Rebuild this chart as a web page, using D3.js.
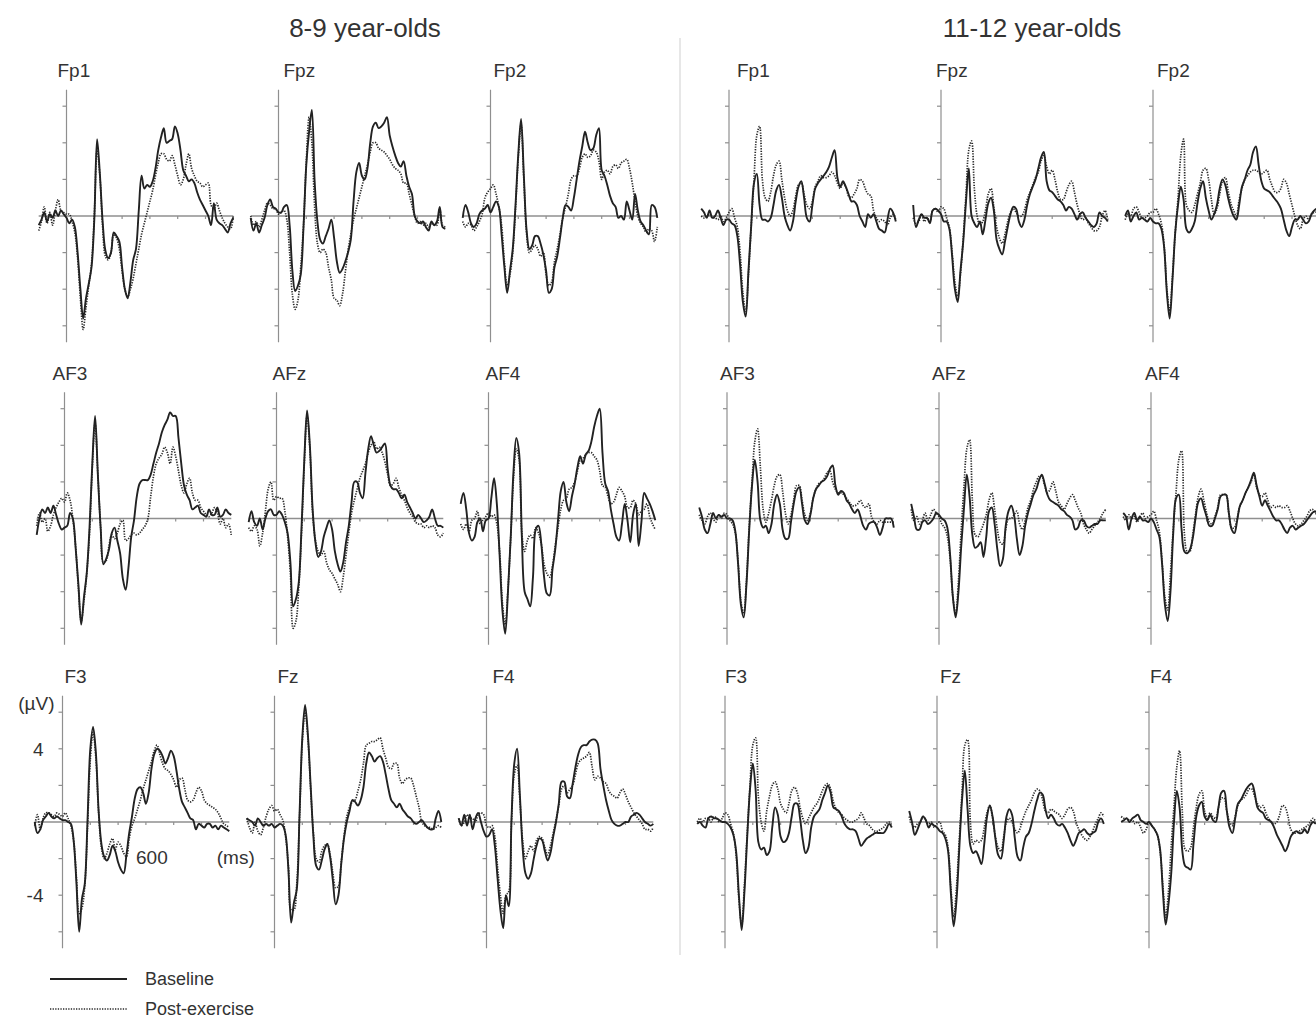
<!DOCTYPE html>
<html><head><meta charset="utf-8">
<script src="https://cdn.jsdelivr.net/npm/d3@7"></script>
<style>
body{margin:0;background:#fff;}
svg{display:block;font-family:"Liberation Sans",Arial,Helvetica,sans-serif;}
</style>
</head><body>
<svg id="chart" width="1316" height="1021"></svg>
<script>
// ---------- DATA ----------
const times = [-200,-180,-160,-140,-120,-100,-80,-60,-40,-20,0,
  20,40,60,80,100,120,140,160,180,200,
  220,240,260,280,300,320,340,360,380,400,
  420,440,460,480,500,520,540,560,580,600,
  620,640,660,680,700,720,740,760,780,800,
  820,840,860,880,900,920,940,960,980,1000,
  1020,1040,1060,1080,1100,1120,1140,1160,1180,1200];

const groupTitles = ["8-9 year-olds", "11-12 year-olds"];
const electrodes = ["Fp1","Fpz","Fp2","AF3","AFz","AF4","F3","Fz","F4"];
const seriesNames = ["Baseline", "Post-exercise"];
const yTickValues = [-6,-4,-2,2,4,6];
const yTickLabels = ["4","-4"];
const yTickLabelValues = [4,-4];
const xTickValues = [200,400,600,800,1000];
const xTickLabel = "600";
const yUnit = "(\u00b5V)";
const xUnit = "(ms)";

// 8-9 year-olds
const y89_Fp1_base = [-0.5,-0.2,0.2,-0.3,0.1,-0.1,0.3,0.0,0.3,0.1,-0.1,
 -0.4,-0.2,-0.6,-2.0,-4.0,-5.6,-4.5,-3.7,-2.8,-0.2,
 4.2,2.3,-0.3,-1.9,-2.3,-2.0,-0.9,-1.1,-1.4,-2.8,
 -4.0,-4.5,-3.6,-2.4,-1.8,0.3,2.2,1.5,1.7,1.6,
 1.9,2.6,3.6,4.3,4.8,4.0,4.1,4.2,4.9,4.5,
 3.6,2.5,2.2,1.9,2.0,1.8,1.3,0.9,0.6,0.3,
 0.0,-0.5,0.7,-0.2,-0.4,-0.5,-0.7,-0.9,-0.4,-0.1];
const y89_Fp1_post = [-0.8,-0.3,0.5,-0.4,0.2,-0.5,0.3,0.9,0.3,0.2,0.1,
 0.1,-0.3,-0.9,-2.3,-4.5,-6.2,-5.0,-3.8,-2.6,0.0,
 3.6,2.2,-0.6,-2.2,-2.4,-2.0,-1.0,-1.2,-1.8,-3.0,
 -4.0,-4.4,-4.0,-3.4,-2.6,-1.8,-1.0,-0.4,0.2,0.8,
 1.4,2.2,2.9,3.4,3.4,3.1,3.0,3.3,2.8,2.2,
 1.7,2.0,2.8,3.4,2.6,2.2,1.9,1.8,1.6,1.7,
 1.8,0.6,0.4,0.7,0.3,-0.1,-0.4,-0.6,-0.7,0.0];
const y89_Fpz_base = [-0.1,-0.8,-0.4,-0.9,-0.5,-0.1,0.6,0.9,0.5,0.4,0.2,
 0.2,0.5,0.6,-0.5,-3.0,-4.1,-3.8,-3.2,-0.6,2.8,
 4.6,5.8,1.9,-0.3,-1.3,-1.5,-1.1,-0.7,-0.2,-1.2,
 -2.5,-3.1,-2.9,-2.5,-2.0,-1.3,0.8,2.4,2.9,2.2,
 2.0,2.6,4.0,4.9,5.1,4.8,4.9,5.1,5.4,4.4,
 3.8,3.3,2.9,2.7,3.0,2.2,1.6,1.2,0.0,-0.3,
 -0.4,-0.3,-0.6,-0.8,-0.3,-0.5,-0.3,0.5,-0.6,-0.7];
const y89_Fpz_post = [0.0,-0.5,-0.3,-0.6,-0.2,0.3,0.7,0.6,0.4,0.4,0.1,
 0.2,0.3,-0.2,-2.0,-4.3,-5.1,-4.6,-2.8,-0.5,3.0,
 5.4,4.0,0.5,-1.5,-2.0,-1.8,-2.0,-2.8,-3.5,-4.5,
 -4.6,-4.9,-4.3,-3.1,-1.9,-1.0,-0.2,0.4,1.0,1.6,
 2.2,2.8,3.5,4.0,4.0,3.7,3.6,3.5,3.3,3.1,
 2.8,2.6,2.5,2.3,1.8,1.8,1.2,0.6,0.0,-0.4,
 -0.3,-0.5,-0.4,-0.6,-0.4,-0.5,-0.5,0.4,-0.5,-0.6];
const y89_Fp2_base = [-0.1,0.6,0.2,-0.4,-0.6,-0.4,0.1,0.3,0.4,0.6,0.2,
 0.5,0.8,0.5,-1.0,-2.8,-4.2,-3.0,-1.8,0.6,3.4,
 5.3,2.2,-0.8,-1.8,-1.6,-1.1,-1.1,-1.5,-2.1,-3.0,
 -4.2,-4.0,-2.8,-2.2,-1.2,-0.1,0.6,0.5,0.3,1.0,
 2.0,3.0,3.8,4.6,4.0,3.6,3.7,4.4,4.8,2.5,
 2.2,1.7,1.1,0.7,0.5,-0.1,0.0,-0.2,0.8,0.3,
 -0.2,1.2,0.3,-0.3,-0.5,-0.8,-1.0,0.6,0.5,-0.1];
const y89_Fp2_post = [-0.3,-0.6,-0.4,-0.5,-0.8,-0.6,-0.3,0.1,1.0,1.3,1.5,
 1.7,1.2,0.5,-0.5,-2.5,-3.8,-3.2,-2.0,0.4,3.2,
 5.0,2.0,-1.0,-2.0,-1.8,-1.6,-1.8,-2.2,-2.0,-3.2,
 -3.8,-3.6,-2.5,-1.8,-1.0,-0.1,0.5,1.2,2.0,2.2,
 2.2,2.6,3.2,3.4,3.2,3.3,3.6,3.5,3.0,2.0,
 2.4,2.5,2.3,2.7,2.8,2.6,2.9,3.0,3.1,2.6,
 1.8,0.8,0.0,-0.4,-0.6,-0.9,-0.7,-0.8,-1.4,-0.6];
const y89_AF3_base = [-0.9,0.0,0.5,0.3,0.6,0.3,0.7,0.2,-0.3,-0.6,-0.5,
 -0.4,0.3,0.0,-1.6,-3.6,-5.8,-4.3,-3.0,-0.5,3.0,
 5.6,2.4,-0.5,-2.5,-2.2,-1.7,-0.8,-0.5,-1.2,-1.9,
 -3.3,-3.9,-2.7,-1.0,-0.1,1.2,1.9,2.1,2.1,2.1,
 2.4,3.0,3.6,4.1,4.7,5.1,5.4,5.8,5.6,5.6,
 4.4,3.0,1.8,1.3,1.0,0.5,0.6,0.7,0.3,0.2,
 0.1,0.5,0.2,0.2,0.6,0.1,0.2,0.5,0.3,0.2];
const y89_AF3_post = [-0.4,0.3,-0.2,0.0,-0.7,-0.4,0.2,0.6,0.9,1.1,0.9,
 1.4,1.0,0.0,-1.5,-3.8,-5.6,-4.5,-3.0,-0.8,2.8,
 5.2,2.4,-0.5,-2.4,-2.3,-1.5,-0.9,-1.1,-0.8,-0.3,
 -0.1,-1.2,-1.1,-0.9,-0.8,-0.9,-0.8,-0.6,-0.4,0.0,
 1.2,2.3,3.0,3.3,3.5,3.9,3.6,3.0,3.9,3.4,
 2.6,1.8,1.4,1.9,2.2,1.4,1.0,1.0,0.6,0.4,
 0.2,0.1,0.3,0.6,0.3,-0.3,0.0,-0.5,-0.3,-0.9];
const y89_AFz_base = [-0.2,0.4,-0.2,-0.4,0.0,-0.6,0.0,0.4,0.5,0.2,0.2,
 0.4,0.2,-0.2,-0.8,-2.4,-4.8,-4.4,-3.5,-0.5,3.2,
 5.9,4.0,0.5,-1.3,-2.1,-1.8,-1.0,-0.5,-0.1,-0.6,
 -1.8,-2.5,-2.9,-2.4,-1.3,-0.4,0.9,2.0,2.0,1.4,
 1.1,2.5,3.8,4.5,4.0,3.6,3.7,3.9,4.1,2.7,
 1.8,1.6,1.6,1.4,1.1,1.3,0.9,0.6,0.3,0.0,
 0.2,0.0,-0.2,-0.1,0.1,0.5,0.0,-0.4,-0.4,-0.5];
const y89_AFz_post = [-0.5,-0.7,-0.4,-0.6,-1.5,-0.8,0.4,1.6,2.0,1.0,1.2,
 1.1,1.1,0.4,-1.0,-3.0,-6.0,-5.6,-3.8,-0.8,3.0,
 5.6,3.8,0.3,-1.2,-1.8,-2.0,-1.8,-2.4,-2.8,-3.0,
 -3.3,-3.6,-4.0,-3.2,-2.0,-0.8,0.3,1.0,1.6,2.2,
 2.6,3.0,3.6,4.0,4.2,3.8,3.9,3.6,3.1,2.4,
 1.8,1.9,2.2,1.7,1.3,1.0,0.6,0.3,0.1,-0.2,
 -0.3,-0.3,-0.5,-0.4,-0.5,-0.4,-0.5,-0.9,-1.0,-0.8];
const y89_AF4_base = [0.8,1.4,0.5,-0.8,-1.2,-1.0,-0.2,0.0,-0.7,-0.1,0.0,
 1.1,2.2,0.8,-2.0,-5.0,-6.3,-4.0,-1.0,2.6,4.4,
 3.6,-1.0,-4.0,-4.4,-4.8,-3.2,-0.6,-0.4,-1.4,-3.2,
 -4.1,-4.2,-2.8,-1.7,-0.1,1.5,2.0,0.9,0.4,1.2,
 1.9,2.8,3.4,3.0,3.5,3.7,4.2,5.0,5.6,6.0,
 3.6,1.9,1.5,0.5,-0.3,-1.0,-1.2,-0.3,0.8,-0.1,
 -1.3,0.2,0.8,-1.5,-0.2,1.4,1.1,0.8,0.4,-0.1];
const y89_AF4_post = [-0.3,-0.6,-0.3,-0.7,-0.1,0.0,0.4,-0.3,-0.1,0.1,0.3,
 0.1,0.2,-0.3,-1.8,-4.6,-5.8,-3.9,-1.0,2.2,3.8,
 3.2,-0.8,-1.8,-1.2,-0.9,-1.1,-0.5,-0.8,-1.4,-2.5,
 -3.0,-3.2,-2.6,-1.5,-0.5,0.5,1.0,1.1,1.6,1.7,
 2.0,2.6,3.2,3.3,3.5,3.6,3.6,3.4,3.2,2.6,
 1.8,1.7,1.2,0.8,0.9,1.3,1.7,1.5,1.2,0.6,
 0.6,1.0,0.8,0.2,0.4,0.5,0.8,0.1,-0.3,-0.6];
const y89_F3_base = [0.0,-0.6,-0.4,0.1,0.3,0.5,0.3,0.2,0.3,0.2,0.1,
 0.1,0.0,-0.1,-1.0,-3.3,-6.0,-4.2,-3.4,0.1,4.0,
 5.2,3.8,0.6,-1.2,-1.9,-2.1,-1.8,-1.3,-1.6,-2.2,
 -2.6,-2.8,-1.8,-0.6,0.3,1.3,1.8,1.9,1.6,1.0,
 1.6,2.9,3.7,4.0,3.9,3.6,3.2,3.5,3.9,3.6,
 2.8,1.8,1.1,0.8,0.5,0.2,0.1,-0.4,-0.1,-0.2,
 -0.3,-0.1,-0.1,-0.3,-0.2,-0.4,-0.2,-0.3,-0.4,-0.5];
const y89_F3_post = [-0.2,0.4,-0.4,0.2,0.5,0.5,0.4,0.3,0.5,0.4,0.3,
 0.5,0.2,-0.2,-1.0,-3.0,-5.0,-4.7,-3.5,-0.3,3.4,
 4.9,3.5,0.5,-1.4,-2.0,-1.7,-1.2,-0.9,-1.5,-1.1,
 -1.3,-1.7,-1.9,-0.9,-0.2,0.2,0.7,1.2,1.8,2.3,
 2.8,3.3,3.9,4.2,3.7,3.2,2.9,2.8,2.6,2.3,
 1.9,2.3,2.4,1.8,1.2,1.1,1.2,1.6,1.9,1.7,
 1.2,1.0,0.9,0.8,0.7,0.5,0.2,-0.1,-0.2,-0.3];
const y89_Fz_base = [0.2,0.1,0.0,-0.2,0.2,0.0,-0.2,-0.1,-0.2,-0.1,-0.3,
 -0.2,-0.1,-0.2,-0.7,-2.6,-5.5,-4.4,-3.7,0.4,4.6,
 6.4,4.8,2.0,-0.8,-2.4,-2.6,-2.1,-1.5,-1.2,-1.9,
 -3.2,-4.5,-4.0,-2.3,-0.9,0.0,0.6,1.2,1.1,0.9,
 1.2,1.9,3.2,3.8,3.6,3.3,3.5,3.6,3.3,2.6,
 1.8,1.2,1.0,0.8,1.0,0.7,0.5,0.3,0.2,0.0,
 -0.1,0.0,0.1,-0.1,-0.3,-0.4,-0.4,0.2,0.6,0.0];
const y89_Fz_post = [0.2,-0.3,-0.6,0.0,-0.5,-0.7,-0.3,0.3,0.7,0.9,0.6,
 0.7,0.4,0.1,-0.8,-2.4,-4.8,-4.8,-3.4,0.2,4.4,
 6.0,4.6,1.8,-0.6,-2.0,-2.2,-1.6,-1.3,-1.2,-1.8,
 -2.8,-3.6,-3.5,-2.2,-0.8,0.3,0.8,1.1,1.2,1.7,
 2.3,3.2,4.2,4.3,4.4,4.4,4.5,4.6,4.0,3.5,
 3.0,2.9,3.2,3.2,2.4,2.1,2.3,2.4,2.4,2.0,
 1.4,0.8,0.0,-0.2,-0.3,-0.3,-0.4,-0.3,-0.2,-0.3];
const y89_F4_base = [0.2,-0.2,0.4,-0.2,0.4,-0.4,0.2,0.5,0.0,-0.5,-0.8,
 -0.7,-0.4,-1.3,-3.1,-4.8,-5.8,-4.0,-4.6,0.2,3.2,
 4.0,1.5,-1.4,-2.8,-3.1,-2.8,-2.0,-1.3,-0.9,-1.0,
 -1.6,-2.1,-1.7,-0.8,0.0,1.0,2.2,2.2,1.4,1.3,
 2.1,3.0,3.7,4.1,4.2,4.2,4.4,4.5,4.5,4.3,
 2.9,2.0,1.2,0.6,0.1,-0.1,-0.2,-0.2,-0.1,0.0,
 0.0,0.3,0.4,0.5,0.4,0.2,0.0,-0.1,-0.2,-0.1];
const y89_F4_post = [0.2,-0.2,0.0,0.4,0.2,0.2,0.0,0.4,0.5,0.4,-0.2,
 -0.3,-0.2,-0.8,-2.5,-4.0,-5.0,-4.0,-3.8,0.0,2.6,
 3.1,1.2,-1.0,-2.0,-1.6,-1.3,-1.6,-1.0,-0.8,-0.9,
 -1.4,-1.8,-1.3,-0.6,0.1,0.9,1.8,2.0,1.6,1.8,
 2.0,2.6,3.2,3.4,3.5,3.6,3.8,3.0,2.3,2.5,
 2.4,2.2,2.1,1.7,1.5,1.4,1.3,1.6,1.8,1.5,
 1.1,0.8,0.5,0.3,0.1,-0.1,-0.4,-0.4,-0.5,-0.3];

// 11-12 year-olds
const y1112_Fp1_base = [0.4,0.2,-0.1,0.3,-0.1,0.0,0.3,-0.1,-0.5,-0.2,-0.2,
 -0.4,-0.5,-1.1,-2.7,-4.7,-5.5,-3.0,-0.5,1.8,2.3,
 0.6,-0.2,-0.2,-0.3,-0.1,0.6,1.4,1.7,1.0,0.0,
 -0.5,-0.8,-0.3,0.8,1.6,1.9,1.0,-0.1,-0.3,0.6,
 1.5,1.8,2.0,2.2,2.4,2.7,3.2,3.6,2.1,1.6,
 1.9,1.6,1.2,0.8,0.8,0.6,0.0,-0.3,-0.6,0.1,
 -0.1,0.1,-0.3,-0.7,-0.8,-0.9,-0.2,0.4,0.2,-0.3];
const y1112_Fp1_post = [0.0,-0.1,0.0,0.1,-0.1,-0.1,-0.2,0.0,-0.3,-0.1,0.2,
 0.4,-0.1,-0.6,-2.0,-4.2,-5.2,-3.2,-0.5,2.0,4.4,
 4.9,2.0,1.0,0.8,1.3,2.2,2.8,3.0,2.0,1.0,
 0.3,0.0,0.3,1.1,1.7,1.8,1.2,0.6,0.4,0.8,
 1.6,1.9,2.2,2.1,2.1,2.2,2.4,2.2,1.8,1.5,
 1.8,1.6,1.1,1.0,1.2,1.5,2.0,1.9,1.5,1.2,
 1.1,0.3,-0.1,-0.3,-0.2,-0.3,-0.5,-0.1,0.1,-0.2];
const y1112_Fpz_base = [0.6,-0.6,-0.2,0.1,-0.1,-0.1,-0.4,0.3,0.4,0.3,0.1,
 -0.3,-0.3,-0.7,-2.2,-4.0,-4.7,-3.0,-1.4,0.8,2.6,
 0.0,-0.4,-0.6,-0.3,-1.0,-0.2,0.7,1.0,0.3,-1.3,
 -1.8,-2.1,-1.4,-0.6,0.1,0.5,0.4,-0.3,-0.6,-0.2,
 0.6,1.2,1.6,2.0,2.6,3.2,3.5,1.9,1.4,1.3,
 1.1,0.9,0.8,0.6,0.3,0.5,0.4,0.1,-0.2,0.1,
 0.2,-0.1,-0.3,-0.5,-0.6,-0.4,0.2,0.0,-0.1,-0.3];
const y1112_Fpz_post = [-0.1,-0.4,-0.3,0.1,-0.3,-0.1,-0.3,0.3,0.4,0.2,0.5,
 0.4,-0.1,-0.6,-2.0,-3.6,-4.4,-3.2,-1.2,1.2,3.6,
 4.1,1.5,0.0,-0.5,-0.3,0.3,1.2,1.5,0.5,-0.6,
 -1.2,-1.5,-1.0,-0.3,0.2,0.4,0.2,0.0,0.0,0.3,
 0.9,1.3,1.7,2.1,2.4,3.0,3.3,2.7,2.3,2.5,
 2.0,1.3,0.9,0.9,1.3,1.7,1.9,1.3,0.6,0.1,
 -0.2,-0.1,-0.4,-0.6,-0.8,-0.8,-0.6,0.0,0.3,-0.2];
const y1112_Fp2_base = [0.0,0.3,-0.3,0.0,0.2,-0.2,-0.1,-0.2,-0.3,-0.1,-0.3,
 -0.4,-0.4,-0.7,-1.7,-4.2,-5.6,-3.5,-0.9,0.6,1.6,
 0.9,-0.7,-0.9,-0.7,-0.3,0.7,1.5,1.9,1.0,0.3,
 -0.2,0.1,0.6,1.5,2.0,1.7,1.0,0.4,0.0,-0.2,
 0.6,1.6,2.0,2.5,2.8,3.5,3.8,2.8,1.9,1.5,
 1.4,1.3,1.1,0.9,0.7,0.4,-0.2,-0.8,-1.1,-0.6,
 -0.2,-0.2,0.0,-0.2,-0.4,-0.3,0.1,0.3,0.4,0.2];
const y1112_Fp2_post = [-0.2,0.1,0.0,0.4,0.5,0.2,-0.1,-0.1,0.0,0.2,0.2,
 0.4,0.1,-0.4,-1.6,-4.0,-5.2,-3.3,-0.9,1.0,3.3,
 4.2,0.6,0.3,0.2,0.6,1.2,1.8,2.5,2.6,2.0,
 0.9,0.1,0.4,1.2,1.9,2.1,1.4,0.7,0.3,0.0,
 0.9,1.5,2.0,2.2,2.4,2.5,2.5,2.4,2.3,2.4,
 2.5,2.0,1.6,1.3,1.3,1.5,2.0,1.8,1.2,0.6,
 0.0,-0.5,-0.7,-0.2,0.0,-0.2,0.1,0.2,0.2,0.1];
const y1112_AF3_base = [0.6,0.1,-0.6,-0.8,-0.3,0.3,0.0,0.2,0.1,0.2,0.0,
 0.0,-0.1,-0.7,-2.5,-4.7,-5.4,-3.6,-0.6,1.8,3.2,
 2.0,-0.1,-0.5,-0.4,-0.8,-0.3,0.8,1.3,0.8,-0.6,
 -1.1,-1.1,-0.2,0.8,1.5,1.7,0.8,-0.1,-0.3,0.2,
 1.1,1.6,1.8,2.0,2.1,2.3,2.7,2.9,1.8,1.3,
 1.5,1.4,1.0,0.8,0.5,0.3,0.5,0.1,-0.4,-0.6,
 -0.3,-0.2,-0.2,-0.5,-0.9,-0.5,0.0,0.0,0.0,-0.5];
const y1112_AF3_post = [0.2,-0.1,-0.3,0.1,0.3,0.0,-0.2,0.2,0.0,0.3,0.2,
 -0.1,-0.3,-0.8,-2.4,-4.5,-5.2,-3.4,-0.4,2.0,4.2,
 4.9,2.8,0.5,-0.2,0.3,1.0,1.8,2.3,2.4,1.5,
 0.3,-0.3,0.2,1.0,1.8,1.8,1.0,0.2,-0.1,0.3,
 1.1,1.6,1.9,2.0,2.2,2.5,2.6,2.0,1.6,1.4,
 1.4,1.3,1.1,0.9,0.7,0.7,0.8,1.0,0.7,0.6,
 0.8,0.1,-0.2,-0.3,-0.1,-0.2,-0.2,-0.2,-0.2,-0.2];
const y1112_AFz_base = [0.8,0.1,-0.6,-0.6,-0.2,-0.1,-0.3,-0.2,0.0,0.3,0.2,
 0.0,-0.1,-0.5,-2.0,-4.3,-5.4,-4.0,-1.5,0.6,2.4,
 1.2,-0.9,-1.6,-1.5,-1.3,-2.1,-1.0,0.4,0.6,-0.3,
 -1.7,-2.6,-2.2,-0.4,0.4,0.7,0.2,-1.1,-2.0,-1.5,
 -0.4,0.3,0.8,1.3,1.6,2.1,2.4,1.9,1.3,1.0,
 0.9,0.8,0.7,0.5,0.4,0.2,0.1,-0.1,-0.6,-0.5,
 -0.1,-0.1,-0.4,-0.5,-0.4,-0.3,-0.3,-0.1,-0.1,-0.1];
const y1112_AFz_post = [0.5,-0.1,0.1,-0.3,-0.1,0.3,-0.1,0.2,0.5,0.3,0.1,
 -0.3,-0.5,-1.0,-2.2,-4.3,-5.2,-3.4,-0.6,1.8,3.8,
 4.3,1.0,-0.9,-1.0,-0.7,-0.3,0.2,1.0,1.4,0.5,
 -0.6,-1.3,-1.4,-0.6,0.0,0.0,0.2,0.4,-0.3,-0.6,
 -0.1,0.6,1.0,1.6,2.0,2.3,2.3,1.8,1.4,1.6,
 2.0,1.5,0.9,0.7,0.5,0.8,1.1,1.3,1.0,0.6,
 0.3,-0.3,-0.6,-0.8,-0.6,-0.4,-0.2,0.0,0.3,0.5];
const y1112_AF4_base = [0.3,0.1,-0.6,0.0,0.3,-0.1,0.1,-0.1,-0.1,-0.2,0.0,
 -0.2,-0.6,-1.0,-2.5,-4.7,-5.6,-4.0,-0.8,1.1,1.3,
 -0.6,-1.8,-1.9,-1.7,-1.1,0.0,0.9,1.1,0.6,0.1,
 -0.4,-0.4,0.0,0.5,1.2,1.3,1.3,0.3,-0.6,-0.8,
 -0.1,0.7,1.0,1.4,1.7,2.1,2.5,1.8,1.2,0.7,
 1.0,0.7,0.4,0.1,-0.1,-0.1,-0.3,-0.6,-0.8,-0.5,
 -0.4,-0.6,-0.5,-0.4,-0.3,-0.1,0.1,0.3,0.4,0.2];
const y1112_AF4_post = [0.1,-0.1,0.2,0.0,0.1,-0.2,0.1,0.3,0.0,0.1,0.2,
 0.4,-0.1,-0.7,-2.4,-4.3,-5.0,-3.0,-0.6,1.4,3.2,
 3.7,-0.8,-1.8,-1.8,-0.9,0.2,1.2,1.6,1.0,0.3,
 -0.2,-0.3,0.1,0.6,1.3,1.3,1.3,0.3,-0.5,-0.5,
 0.0,0.7,1.0,1.4,1.7,2.0,2.4,1.7,1.3,1.2,
 1.4,1.0,0.6,0.7,0.6,0.7,0.6,0.6,0.7,0.4,
 0.0,-0.3,-0.4,-0.3,-0.1,0.1,0.4,0.5,0.3,0.2];
const y1112_F3_base = [-0.1,0.0,-0.2,-0.3,0.2,0.3,0.2,0.2,0.1,0.0,0.0,
 -0.1,-0.3,-0.7,-1.6,-4.0,-5.9,-3.8,-0.8,1.8,3.2,
 1.8,-1.1,-1.5,-1.4,-1.8,-1.6,-0.3,0.8,0.4,-0.8,
 -1.1,-1.0,-0.6,0.3,1.0,1.0,0.2,-1.0,-1.7,-1.4,
 -0.3,0.3,0.5,0.7,1.2,1.6,2.0,1.6,0.8,0.7,
 0.6,0.3,-0.1,-0.3,-0.4,-0.4,-0.5,-0.9,-1.3,-1.1,
 -0.9,-0.8,-0.7,-0.6,-0.6,-0.6,-0.6,-0.4,-0.1,-0.3];
const y1112_F3_post = [0.0,0.2,0.0,0.2,0.2,0.0,0.3,0.2,0.0,0.2,0.5,
 0.4,-0.1,-0.6,-1.8,-4.2,-5.6,-3.4,-0.6,2.0,4.2,
 4.6,1.4,0.0,-0.5,0.6,1.4,2.0,2.2,1.8,1.0,
 0.7,0.5,1.0,1.7,1.9,1.6,0.8,0.2,-0.1,0.2,
 0.5,0.8,1.0,1.3,1.7,2.0,2.1,1.8,1.1,0.7,
 0.5,0.4,0.2,0.1,0.0,0.0,0.1,0.2,0.5,0.2,
 -0.1,-0.2,-0.4,-0.5,-0.5,-0.4,-0.3,-0.1,0.0,-0.2];
const y1112_Fz_base = [0.6,0.0,-0.7,-0.4,0.0,0.3,0.1,-0.3,-0.1,-0.2,-0.3,
 -0.5,-0.6,-0.9,-1.6,-3.9,-5.7,-4.3,-1.5,1.2,2.8,
 0.7,-1.3,-1.7,-1.6,-1.9,-2.3,-1.2,0.3,0.9,0.3,
 -0.9,-1.8,-2.0,-1.0,0.3,0.7,0.4,-0.9,-1.9,-2.1,
 -1.4,-0.8,-0.6,-0.1,0.6,1.2,1.6,1.5,0.7,0.2,
 0.4,0.2,-0.1,-0.2,-0.1,-0.3,-0.6,-1.0,-1.3,-1.0,
 -0.6,-0.5,-0.4,-0.6,-0.7,-0.6,-0.5,0.0,0.2,-0.1];
const y1112_Fz_post = [0.3,-0.1,-0.3,-0.1,0.0,0.3,0.1,-0.1,0.0,-0.3,-0.1,
 0.0,-0.5,-0.7,-1.4,-3.6,-5.2,-3.6,-1.0,1.6,4.2,
 4.5,0.0,-1.2,-1.0,-1.1,-1.0,-0.3,0.5,0.9,0.2,
 -0.8,-1.4,-1.6,-0.8,0.0,0.2,0.0,-0.4,-0.6,-0.3,
 0.2,0.6,0.9,1.2,1.6,1.8,1.7,1.2,0.6,0.5,
 0.7,0.6,0.5,0.4,0.2,0.4,0.7,0.8,0.6,0.0,
 -0.4,-0.7,-0.9,-1.0,-0.8,-0.5,-0.1,0.2,0.5,0.3];
const y1112_F4_base = [0.0,0.1,0.2,0.0,0.2,0.3,0.4,0.1,0.0,-0.1,0.0,
 -0.2,-0.4,-0.7,-1.5,-3.8,-5.6,-4.5,-2.8,0.0,1.7,
 0.8,-1.6,-2.4,-2.5,-2.6,-1.2,0.3,0.9,1.1,0.3,
 0.1,0.4,0.1,0.0,0.8,1.6,1.7,0.6,-0.3,-0.6,
 0.2,1.0,1.2,1.5,1.8,2.0,2.1,1.6,0.8,0.6,
 0.5,0.2,0.1,0.0,-0.3,-0.7,-1.0,-1.3,-1.6,-1.3,
 -0.8,-0.6,-0.5,-0.6,-0.6,-0.4,-0.6,-0.2,0.0,-0.1];
const y1112_F4_post = [0.3,0.2,0.2,0.1,0.1,-0.1,0.0,-0.3,-0.6,-0.4,0.0,
 -0.2,-0.4,-0.7,-1.6,-3.5,-5.2,-3.8,-1.3,0.9,3.0,
 3.9,0.5,-1.5,-1.6,-1.4,-0.3,0.8,1.5,1.7,0.6,
 0.2,0.5,0.3,0.2,0.8,1.3,1.3,0.6,0.0,-0.2,
 0.3,0.9,1.2,1.3,1.5,1.8,1.8,1.4,1.0,0.8,
 0.9,0.5,0.2,0.0,-0.1,0.0,0.4,0.9,0.8,0.3,
 -0.4,-0.6,-0.6,-0.5,-0.4,-0.3,-0.2,0.0,0.2,0.0];

const baselineSeries = [
  [y89_Fp1_base,y89_Fpz_base,y89_Fp2_base,y89_AF3_base,y89_AFz_base,y89_AF4_base,y89_F3_base,y89_Fz_base,y89_F4_base],
  [y1112_Fp1_base,y1112_Fpz_base,y1112_Fp2_base,y1112_AF3_base,y1112_AFz_base,y1112_AF4_base,y1112_F3_base,y1112_Fz_base,y1112_F4_base]
];
const postSeries = [
  [y89_Fp1_post,y89_Fpz_post,y89_Fp2_post,y89_AF3_post,y89_AFz_post,y89_AF4_post,y89_F3_post,y89_Fz_post,y89_F4_post],
  [y1112_Fp1_post,y1112_Fpz_post,y1112_Fp2_post,y1112_AF3_post,y1112_AFz_post,y1112_AF4_post,y1112_F3_post,y1112_Fz_post,y1112_F4_post]
];

// ---------- LAYOUT ----------
const svg = d3.select("#chart");
const W = 1316, H = 1021;
svg.append("rect").attr("width",W).attr("height",H).attr("fill","#fff");

const groupAxisX0 = [66.5, 729];   // axis x of first column, first row
const colStep = 212;
const rowShift = -2;                // slight scan skew
const zeroY = [216, 518.5, 822];
const pxPerMs = 0.139;
const pxPerUv = 18.3;
const axisGray = "#8f8f8f";
const inkDark = "#222";
const dotInk = "#2a2a2a";
const textColor = "#333";
// label start offsets from each panel's axis (layout only)
const labelDx = [
  [-9, 5, 3, -12, -4, -3, 2, 3, 6],
  [8, -5, 4, -7, -7, -6, 0, 3, 1]
];

// divider
svg.append("line").attr("x1",680).attr("x2",680).attr("y1",38).attr("y2",955)
  .attr("stroke","#cfcfcf").attr("stroke-width",1);

// group titles
const titleX = [365, 1032];
groupTitles.forEach((t,g)=>{
  svg.append("text").attr("x",titleX[g]).attr("y",37).attr("text-anchor","middle")
    .attr("font-size",26).attr("fill",textColor).text(t);
});

const lineGen = (x,y) => d3.line()
  .x((d,i)=>x(times[i])).y(d=>y(d))
  .curve(d3.curveCatmullRom.alpha(0.5));

for (let g=0; g<2; g++){
  for (let k=0; k<9; k++){
    const row = Math.floor(k/3), col = k%3;
    const ax = groupAxisX0[g] + col*colStep + row*rowShift;
    const zy = zeroY[row];
    const x = d3.scaleLinear().domain([0,1000]).range([ax, ax+1000*pxPerMs]);
    const y = d3.scaleLinear().domain([-6.9,6.9]).range([zy+6.9*pxPerUv, zy-6.9*pxPerUv]);
    const p = svg.append("g");

    // y axis
    p.append("line").attr("x1",ax).attr("x2",ax).attr("y1",y(6.9)).attr("y2",y(-6.9))
      .attr("stroke",axisGray).attr("stroke-width",1.2);
    p.selectAll(".yt").data(yTickValues).enter().append("line")
      .attr("x1",ax-4).attr("x2",ax).attr("y1",d=>y(d)).attr("y2",d=>y(d))
      .attr("stroke",axisGray).attr("stroke-width",1.2);
    // x axis (zero line)
    p.append("line").attr("x1",x(-200)).attr("x2",x(1200)).attr("y1",y(0)).attr("y2",y(0))
      .attr("stroke",axisGray).attr("stroke-width",1.4);
    p.selectAll(".xt").data(xTickValues).enter().append("line")
      .attr("x1",d=>x(d)).attr("x2",d=>x(d)).attr("y1",y(0)).attr("y2",y(0)+3)
      .attr("stroke",axisGray).attr("stroke-width",1.2);

    // label
    p.append("text").attr("x",ax+labelDx[g][k]).attr("y",zy-139).attr("text-anchor","start")
      .attr("font-size",19).attr("fill",textColor).text(electrodes[k]);

    // curves
    p.append("path").datum(postSeries[g][k]).attr("d",lineGen(x,y))
      .attr("fill","none").attr("stroke",dotInk).attr("stroke-width",1.7)
      .attr("stroke-dasharray","1.3,1.3");
    p.append("path").datum(baselineSeries[g][k]).attr("d",lineGen(x,y))
      .attr("fill","none").attr("stroke",inkDark).attr("stroke-width",1.9)
      .attr("stroke-linejoin","round");

    // axis annotations on left F3 panel
    if (g===0 && k===6){
      yTickLabelValues.forEach((v,i)=>{
        p.append("text").attr("x",ax-19).attr("y",y(v)+7).attr("text-anchor","end")
          .attr("font-size",19).attr("fill",textColor).text(yTickLabels[i]);
      });
      p.append("text").attr("x",ax-8).attr("y",y(6.5)+7).attr("text-anchor","end")
        .attr("font-size",19).attr("fill",textColor).text(yUnit);
      p.append("text").attr("x",x(600)+6).attr("y",y(0)+42).attr("text-anchor","middle")
        .attr("font-size",19).attr("fill",textColor).text(xTickLabel);
      p.append("text").attr("x",x(1110)).attr("y",y(0)+42).attr("text-anchor","start")
        .attr("font-size",19).attr("fill",textColor).text(xUnit);
    }
  }
}

// legend
const legY = [979, 1009];
svg.append("line").attr("x1",50).attr("x2",127).attr("y1",legY[0]).attr("y2",legY[0])
  .attr("stroke",inkDark).attr("stroke-width",1.9);
svg.append("line").attr("x1",50).attr("x2",127).attr("y1",legY[1]).attr("y2",legY[1])
  .attr("stroke",dotInk).attr("stroke-width",1.7).attr("stroke-dasharray","1.3,1.3");
seriesNames.forEach((s,i)=>{
  svg.append("text").attr("x",145).attr("y",legY[i]+6).attr("font-size",18)
    .attr("fill",textColor).text(s);
});
</script>
</body></html>
